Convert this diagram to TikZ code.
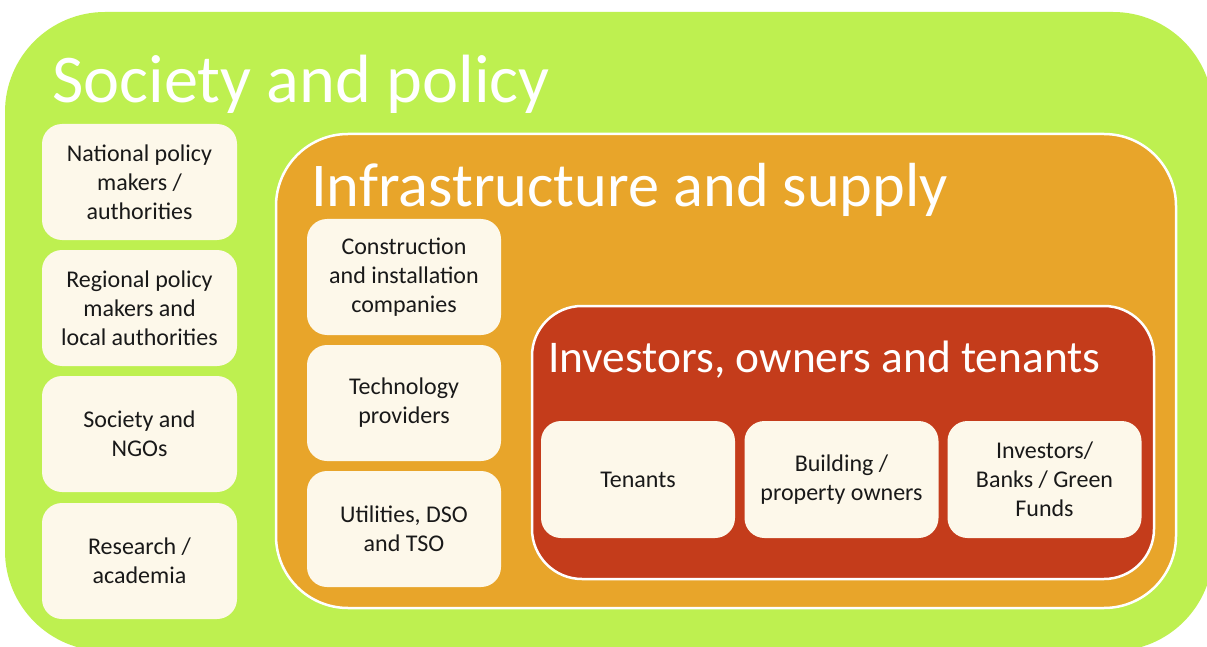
\documentclass[tikz,border=0pt]{standalone}
\usepackage{fontspec}
\setmainfont{Carlito}
\definecolor{socgreen}{RGB}{190,240,80}
\definecolor{infraorange}{RGB}{232,165,42}
\definecolor{invred}{RGB}{196,60,27}
\definecolor{cream}{RGB}{253,248,234}
\tikzset{
  zone/.style={draw=white, line width=2.5pt, inner sep=0pt},
  actor/.style={fill=cream, rounded corners=20pt, inner sep=0pt, align=center,
    minimum width=195pt, minimum height=116pt,
    font=\fontsize{24}{29}\selectfont, text=black!90},
  ztitle/.style={anchor=base west, text=white, inner sep=0pt}
}
\begin{document}
\begin{tikzpicture}[x=1pt,y=-1pt]
\useasboundingbox (0,0) rectangle (1207,647);
\fill[white] (0,0) rectangle (1207,647);
% zones
\node[fill=socgreen, rounded corners=100pt, inner sep=0pt, minimum width=1208pt, minimum height=639pt] (soc) at (609,331.5) {};
\node[zone, fill=infraorange, rounded corners=72pt, minimum width=900pt, minimum height=474pt] (infra) at (726,371) {};
\node[zone, fill=invred, rounded corners=50pt, minimum width=622pt, minimum height=273pt] (inv) at (843,442.5) {};
% titles
\node[ztitle, font=\fontsize{68.3}{80}\selectfont] (soct) at (52,103) {Society and policy};
\node[ztitle, font=\fontsize{62.3}{72}\selectfont] (infrat) at (311,207) {Infrastructure and supply};
\node[ztitle, font=\fontsize{45.4}{55}\selectfont] (invt) at (548,372) {Investors, owners and tenants};
% society actors
\node[actor] (nat) at (139.5,182) {National policy\\makers /\\authorities};
\node[actor] (reg) at (139.5,308) {Regional policy\\makers and\\local authorities};
\node[actor] (ngo) at (139.5,434) {Society and\\NGOs};
\node[actor] (res) at (139.5,561) {Research /\\academia};
% infrastructure actors
\node[actor, minimum width=194pt] (con) at (404,277) {Construction\\and installation\\companies};
\node[actor, minimum width=194pt] (tec) at (404,403) {Technology\\providers};
\node[actor, minimum width=194pt] (uti) at (404,529) {Utilities, DSO\\and TSO};
% investors actors
\node[actor, minimum width=194pt, minimum height=117pt] (ten) at (638,479.5) {Tenants};
\node[actor, minimum width=194pt, minimum height=117pt] (own) at (841.5,479.5) {Building /\\property owners};
\node[actor, minimum width=194pt, minimum height=117pt] (bank) at (1044.5,479.5) {Investors/\\Banks / Green\\Funds};
\end{tikzpicture}
\end{document}
